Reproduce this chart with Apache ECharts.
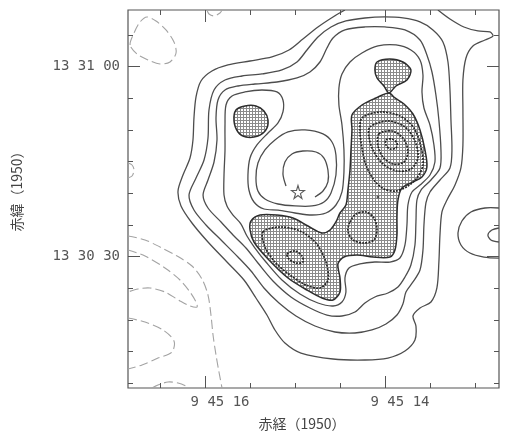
<!DOCTYPE html>
<html><head><meta charset="utf-8">
<script src="https://cdn.jsdelivr.net/npm/echarts@6/dist/echarts.min.js"></script>
<style>html,body{margin:0;padding:0;background:#fff}#c{width:505px;height:433px}</style>
</head><body><div id="c"></div>
<script>
// ---- axis ticks / labels (RA seconds of 9h45m, Dec arcsec above 13d30m) ----
const raTicks = [13, 13.5, 14, 14.5, 15, 15.5, 16, 16.5];
const raMajor = [14, 16];
const raLabels = ['9 45 14', '9 45 16'];
const decTicks = [10, 15, 20, 25, 30, 35, 40, 45, 50, 55, 60, 65];
const decMajor = [30, 60];
const decLabels = ['13 30 30', '13 31 00'];
const raRange = [12.733, 16.856];
const decRange = [9.27, 68.95];

// ---- contours, [RA s, Dec arcsec] ----
const L1 = [[14.445,68.95],[14.578,67.85],[14.745,66.27],[14.912,64.37],[15.067,62.64],[15.256,61.53],[15.500,60.90],[15.745,60.27],[15.923,59.32],[16.045,57.74],[16.100,55.22],[16.123,51.90],[16.134,48.43],[16.167,45.58],[16.245,42.90],[16.300,40.38],[16.267,38.01],[16.145,35.32],[15.967,32.32],[15.756,29.16],[15.567,26.32],[15.434,23.48],[15.312,20.79],[15.223,18.43],[15.112,16.37],[14.934,14.79],[14.578,13.85],[14.223,13.69],[13.967,14.00],[13.778,15.11],[13.667,16.85],[13.656,19.06],[13.689,20.64],[13.611,21.90],[13.489,22.85],[13.423,25.06],[13.401,29.16],[13.389,33.43],[13.367,37.06],[13.311,38.95],[13.222,41.32],[13.156,44.01],[13.134,47.64],[13.134,53.16],[13.134,57.90],[13.100,61.38],[13.023,63.27],[12.889,64.22],[12.800,64.85],[12.834,65.48],[12.967,65.64],[13.123,66.27],[13.278,67.53],[13.412,68.95]];
const L2 = [[16.178,39.74],[16.123,37.37],[15.989,35.01],[15.811,32.48],[15.634,29.95],[15.489,27.74],[15.345,25.06],[15.178,22.69],[14.989,20.64],[14.778,19.06],[14.556,18.11],[14.334,17.95],[14.145,18.43],[13.989,19.37],[13.867,20.79],[13.801,22.53],[13.767,24.43],[13.689,26.01],[13.611,27.90],[13.578,31.06],[13.567,35.01],[13.545,38.48],[13.500,40.22],[13.389,42.11],[13.278,44.01],[13.256,46.85],[13.267,51.59],[13.278,56.32],[13.300,60.74],[13.356,63.90],[13.467,65.80],[13.611,67.06],[13.801,67.69],[14.001,67.85],[14.223,67.69],[14.434,67.22],[14.600,66.27],[14.745,64.69],[14.867,62.64],[14.978,60.74],[15.145,59.48],[15.367,58.85],[15.589,58.53],[15.778,57.90],[15.900,56.32],[15.956,53.16],[15.967,48.74],[16.011,45.27],[16.100,42.43]];
const L3 = [[16.022,39.74],[15.967,37.69],[15.822,35.48],[15.689,33.43],[15.545,31.37],[15.412,29.00],[15.245,26.16],[15.045,23.64],[14.834,21.90],[14.645,20.79],[14.478,20.64],[14.334,21.27],[14.223,22.69],[14.112,23.64],[13.967,24.27],[13.856,25.22],[13.778,26.79],[13.712,28.69],[13.667,31.85],[13.656,35.48],[13.645,38.95],[13.600,40.53],[13.489,42.11],[13.389,44.01],[13.378,46.85],[13.401,51.59],[13.434,55.53],[13.478,59.16],[13.534,61.85],[13.611,64.22],[13.778,65.80],[14.001,66.27],[14.223,66.27],[14.445,65.80],[14.578,64.53],[14.645,62.95],[14.723,60.74],[14.834,59.16],[14.978,58.22],[15.201,57.58],[15.445,57.27],[15.634,56.95],[15.778,56.32],[15.856,54.74],[15.878,51.90],[15.867,48.43],[15.900,44.95],[15.967,42.11]];
const L4 = [[15.789,39.74],[15.789,42.90],[15.778,46.85],[15.778,50.80],[15.767,53.95],[15.700,55.37],[15.556,56.01],[15.367,56.32],[15.201,56.01],[15.134,54.74],[15.134,52.85],[15.189,51.11],[15.300,49.53],[15.423,47.64],[15.500,45.58],[15.523,42.90],[15.512,40.53],[15.456,38.64],[15.345,37.53],[15.189,37.37],[15.000,36.90],[14.811,36.58],[14.656,36.90],[14.545,38.16],[14.478,40.22],[14.456,43.38],[14.456,46.85],[14.478,50.80],[14.512,53.95],[14.512,56.63],[14.478,58.85],[14.389,60.74],[14.256,62.16],[14.078,63.27],[13.878,63.43],[13.712,62.64],[13.611,61.06],[13.578,58.69],[13.589,56.01],[13.567,53.48],[13.500,50.80],[13.456,47.64],[13.445,44.95],[13.500,42.90],[13.611,41.32],[13.700,40.22],[13.745,38.16],[13.756,35.01],[13.778,31.85],[13.834,29.79],[13.945,29.16],[14.112,29.16],[14.278,28.85],[14.400,28.22],[14.445,26.64],[14.434,24.43],[14.478,22.85],[14.578,22.22],[14.745,22.69],[14.945,24.11],[15.145,26.32],[15.323,29.16],[15.445,31.37],[15.534,33.27],[15.600,35.16],[15.689,36.58],[15.756,38.01]];
const D2 = [[15.223,48.43],[15.334,46.85],[15.412,44.79],[15.434,42.43],[15.412,40.38],[15.334,39.11],[15.189,38.32],[15.000,38.01],[14.811,38.01],[14.678,38.64],[14.600,40.06],[14.545,42.90],[14.545,46.06],[14.589,48.11],[14.689,49.38],[14.889,50.01],[15.078,49.69]];
const D1 = [[15.100,41.16],[15.134,43.06],[15.112,44.95],[15.034,46.22],[14.912,46.69],[14.767,46.53],[14.678,45.58],[14.634,43.69],[14.634,41.80],[14.689,40.38],[14.778,39.43]];
const shadeLeftBlob = [[15.656,53.16],[15.556,53.80],[15.434,53.80],[15.345,53.01],[15.300,51.59],[15.323,50.01],[15.412,49.06],[15.545,48.90],[15.634,49.69],[15.678,51.43]];
const shadeTopBlob = [[14.089,60.74],[13.945,61.22],[13.801,60.74],[13.712,59.48],[13.756,57.90],[13.878,56.95],[13.956,55.85],[14.012,56.95],[14.089,58.22],[14.112,59.48]];
const shadeMain = [[13.956,55.85],[13.889,55.06],[13.789,54.11],[13.689,52.53],[13.611,50.01],[13.556,46.85],[13.534,44.16],[13.589,42.59],[13.689,41.80],[13.812,40.85],[13.856,38.95],[13.867,36.27],[13.867,33.43],[13.889,31.06],[13.945,29.95],[14.134,29.95],[14.312,30.27],[14.456,29.95],[14.523,28.85],[14.500,26.64],[14.500,24.43],[14.578,23.16],[14.700,23.48],[14.867,24.74],[15.078,26.64],[15.300,29.64],[15.456,32.32],[15.500,34.22],[15.489,35.64],[15.389,36.58],[15.201,36.58],[15.023,36.11],[14.856,34.85],[14.700,33.74],[14.611,34.22],[14.545,35.48],[14.500,36.90],[14.434,38.16],[14.412,40.53],[14.389,43.69],[14.378,46.85],[14.367,50.01],[14.367,52.37],[14.256,53.95],[14.100,55.06]];
const L6a = [[14.256,51.90],[14.056,52.85],[13.834,52.22],[13.678,50.32],[13.600,47.32],[13.578,44.48],[13.645,42.43],[13.745,41.16],[13.878,40.38],[14.012,40.69],[14.123,42.11],[14.212,44.48],[14.256,47.16],[14.278,49.69]];
const L6b = [[14.389,35.48],[14.323,36.74],[14.212,37.06],[14.123,36.11],[14.089,34.22],[14.123,32.64],[14.234,32.16],[14.356,32.64],[14.412,34.06]];
const L6c = [[15.356,33.90],[15.167,34.69],[14.945,34.06],[14.767,32.16],[14.656,29.16],[14.634,26.32],[14.723,25.06],[14.878,25.53],[15.056,27.11],[15.223,29.16],[15.334,31.53]];
const L7a = [[14.167,50.48],[13.967,51.43],[13.778,50.48],[13.667,48.27],[13.634,45.58],[13.712,43.85],[13.867,43.53],[14.023,44.64],[14.134,46.85],[14.178,48.90]];
const L8a = [[14.067,49.38],[13.923,49.85],[13.801,48.74],[13.745,46.69],[13.789,44.95],[13.912,44.64],[14.023,45.74],[14.078,47.48]];
const L9a = [[13.989,48.43],[13.923,48.59],[13.867,47.95],[13.878,47.16],[13.945,47.01],[13.989,47.64]];
const L7c = [[15.089,30.43],[15.000,30.90],[14.923,30.11],[14.912,29.16],[14.989,29.00],[15.067,29.64]];
const rightOuter = [[12.734,37.69],[12.889,37.69],[13.045,37.06],[13.145,35.64],[13.189,33.74],[13.156,31.85],[13.056,30.58],[12.900,29.95],[12.734,29.79]];
const rightInner = [[12.734,34.53],[12.812,34.22],[12.856,33.43],[12.823,32.64],[12.734,32.32]];
const negTopLeft = [[16.833,63.43],[16.789,65.32],[16.722,67.06],[16.645,67.85],[16.545,67.22],[16.434,65.80],[16.345,63.90],[16.322,62.16],[16.389,60.74],[16.500,60.43],[16.634,61.06],[16.756,62.01]];
const negTop = [[15.978,68.95],[15.956,68.32],[15.900,68.01],[15.834,68.48],[15.811,68.95]];
const negLeft = [[16.856,44.79],[16.811,44.48],[16.789,43.69],[16.811,42.74],[16.856,42.43]];
const neg1 = [[16.856,33.27],[16.667,32.64],[16.500,31.53],[16.311,30.11],[16.145,28.53],[16.034,26.48],[15.967,23.95],[15.934,20.79],[15.911,17.64],[15.878,14.48],[15.845,11.80],[15.811,9.27]];
const neg2 = [[16.856,31.06],[16.667,30.11],[16.445,28.22],[16.278,26.32],[16.167,24.43],[16.100,22.85],[16.089,22.06],[16.167,22.22],[16.278,23.01],[16.445,24.43],[16.611,25.06],[16.745,24.90],[16.856,24.43]];
const neg3 = [[16.856,20.32],[16.667,19.69],[16.467,18.43],[16.345,16.69],[16.367,14.95],[16.523,14.00],[16.700,12.90],[16.856,12.27]];
const neg4 = [[16.589,9.27],[16.523,9.74],[16.411,10.22],[16.300,10.06],[16.211,9.58],[16.189,9.27]];
const starPos = [[14.967, 40.22]];
const crossPos = [[14.078, 39.42]];

// ---- drawing setup ----
const pc = document.createElement('canvas');
pc.width = 3; pc.height = 3;
const g = pc.getContext('2d');
g.fillStyle = '#ffffff'; g.fillRect(0, 0, 3, 3);
g.fillStyle = '#8a8a8a'; g.fillRect(0, 0, 3, 1); g.fillRect(0, 0, 1, 3);
const hatch = { image: pc, repeat: 'repeat' };

const fills = [shadeMain, shadeTopBlob, shadeLeftBlob];
const solid = { stroke: '#4d4d4d', lineWidth: 1.3, fill: null };
const inner = { stroke: '#262626', lineWidth: 1.7, lineDash: [2, 1.2], fill: null };
const neg = { stroke: '#a3a3a3', lineWidth: 1.1, lineDash: [9, 4], fill: null };
const lines = [
  [L1, false, solid], [L2, true, solid], [L3, true, solid], [L4, true, solid],
  [D2, true, solid], [D1, false, solid], [rightOuter, false, solid], [rightInner, false, solid],
  [L6a, true, inner], [L6b, true, inner], [L6c, true, inner], [L7a, true, inner],
  [L8a, true, inner], [L9a, true, inner], [L7c, true, inner],
  [negTopLeft, true, neg], [negTop, false, neg], [negLeft, false, neg],
  [neg1, false, neg], [neg2, false, neg], [neg3, false, neg], [neg4, false, neg]
];

function xAx(pos, vals, len, withLabel) {
  return {
    type: 'value', position: pos, min: raRange[0], max: raRange[1], inverse: true,
    axisLine: { show: false }, splitLine: { show: false },
    axisTick: { show: true, inside: true, length: len, customValues: vals, lineStyle: { color: '#555', width: 1 } },
    axisLabel: withLabel ? {
      show: true, customValues: raMajor, margin: 7, color: '#555',
      fontFamily: 'DejaVu Sans Mono', fontSize: 14, padding: [0, 0, 0, 30],
      formatter: v => raLabels[raMajor.indexOf(Math.round(v))]
    } : { show: false }
  };
}
function yAx(pos, vals, len, withLabel) {
  return {
    type: 'value', position: pos, min: decRange[0], max: decRange[1],
    axisLine: { show: false }, splitLine: { show: false },
    axisTick: { show: true, inside: true, length: len, customValues: vals, lineStyle: { color: '#555', width: 1 } },
    axisLabel: withLabel ? {
      show: true, customValues: decMajor, margin: 8, color: '#555',
      fontFamily: 'DejaVu Sans Mono', fontSize: 14,
      formatter: v => decLabels[decMajor.indexOf(Math.round(v))]
    } : { show: false }
  };
}

const chart = echarts.init(document.getElementById('c'), null, { renderer: 'canvas' });
chart.setOption({
  backgroundColor: '#ffffff',
  animation: false,
  grid: { left: 128, top: 10, width: 371, height: 378, show: true, borderColor: '#555', borderWidth: 1.2, backgroundColor: 'transparent' },
  xAxis: [xAx('bottom', raMajor, 12, true), xAx('bottom', raTicks, 5, false), xAx('top', raMajor, 12, false), xAx('top', raTicks, 5, false)],
  yAxis: [yAx('left', decMajor, 12, true), yAx('left', decTicks, 5, false), yAx('right', decMajor, 12, false), yAx('right', decTicks, 5, false)],
  graphic: [
    { type: 'text', x: 302, y: 424, style: { text: '赤経（1950）', fontFamily: 'Noto Sans CJK JP', fontSize: 14, fill: '#444', textAlign: 'center', textVerticalAlign: 'middle' } },
    { type: 'text', x: 17, y: 188, rotation: Math.PI / 2, style: { text: '赤緯（1950）', fontFamily: 'Noto Sans CJK JP', fontSize: 14, fill: '#444', textAlign: 'center', textVerticalAlign: 'middle' } }
  ],
  series: [
    {
      type: 'custom', coordinateSystem: 'cartesian2d', clip: true, z: 1,
      data: fills.map((f, i) => [14.5, 40, i]),
      renderItem: (params, api) => {
        const poly = fills[api.value(2)];
        return { type: 'polygon', shape: { points: poly.map(p => api.coord(p)), smooth: 0.3 },
          style: { fill: hatch, stroke: '#2e2e2e', lineWidth: 1.5 } };
      }
    },
    {
      type: 'custom', coordinateSystem: 'cartesian2d', clip: true, z: 2,
      data: lines.map((l, i) => [14.5, 40, i]),
      renderItem: (params, api) => {
        const [pts, closed, st] = lines[api.value(2)];
        return { type: closed ? 'polygon' : 'polyline', shape: { points: pts.map(p => api.coord(p)), smooth: 0.3 },
          style: Object.assign({}, st) };
      }
    },
    {
      type: 'scatter', z: 3, data: starPos, symbolSize: 13,
      symbol: 'path://M50,0 L61,35 L98,35 L68,57 L79,91 L50,70 L21,91 L32,57 L2,35 L39,35 Z',
      itemStyle: { color: '#ffffff', borderColor: '#333', borderWidth: 1.1 }
    },
    { type: 'scatter', z: 3, data: crossPos, symbol: 'rect', symbolSize: 2.5, itemStyle: { color: '#333' } }
  ]
});
</script>
</body></html>
